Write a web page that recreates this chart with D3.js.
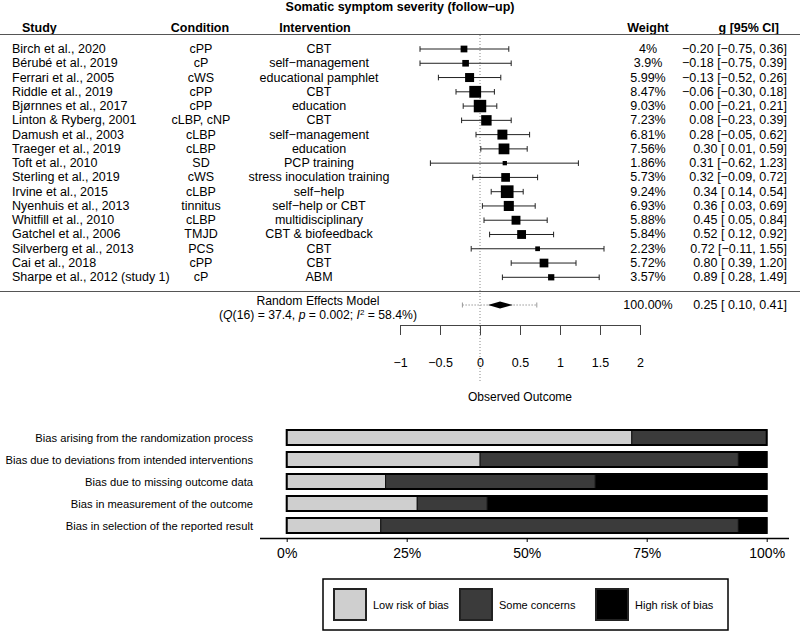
<!DOCTYPE html>
<html>
<head>
<meta charset="utf-8">
<script src="https://cdn.jsdelivr.net/npm/d3@7"></script>
<style>
  html, body { margin: 0; padding: 0; background: #fff; }
  svg { display: block; }
  text { font-family: "Liberation Sans", Arial, Helvetica, sans-serif; fill: #000; }
</style>
</head>
<body>
<svg id="chart" width="800" height="631"></svg>
<script>
// ---------------- DATA ----------------
const chartTitle = "Somatic symptom severity (follow\u2212up)";
const studies = ["Birch et al., 2020","Bérubé et al., 2019","Ferrari et al., 2005","Riddle et al., 2019","Bjørnnes et al., 2017","Linton & Ryberg, 2001","Damush et al., 2003","Traeger et al., 2019","Toft et al., 2010","Sterling et al., 2019","Irvine et al., 2015","Nyenhuis et al., 2013","Whitfill et al., 2010","Gatchel et al., 2006","Silverberg et al., 2013","Cai et al., 2018","Sharpe et al., 2012 (study 1)"];
const conditions = ["cPP","cP","cWS","cPP","cPP","cLBP, cNP","cLBP","cLBP","SD","cWS","cLBP","tinnitus","cLBP","TMJD","PCS","cPP","cP"];
const interventions = ["CBT","self\u2212management","educational pamphlet","CBT","education","CBT","self\u2212management","education","PCP training","stress inoculation training","self\u2212help","self\u2212help or CBT","multidisciplinary","CBT & biofeedback","CBT","CBT","ABM"];
const effects = [-0.20,-0.18,-0.13,-0.06,0.00,0.08,0.28,0.30,0.31,0.32,0.34,0.36,0.45,0.52,0.72,0.80,0.89];
const ciLower = [-0.75,-0.75,-0.52,-0.30,-0.21,-0.23,-0.05,0.01,-0.62,-0.09,0.14,0.03,0.05,0.12,-0.11,0.39,0.28];
const ciUpper = [0.36,0.39,0.26,0.18,0.21,0.39,0.62,0.59,1.23,0.72,0.54,0.69,0.84,0.92,1.55,1.20,1.49];
const weights = [4,3.9,5.99,8.47,9.03,7.23,6.81,7.56,1.86,5.73,9.24,6.93,5.88,5.84,2.23,5.72,3.57];
const reModel = {est: 0.25, lo: 0.10, hi: 0.41, piLo: -0.22, piHi: 0.71, weight: "100.00%"};
const reStats = {Q: "37.4", df: "16", p: "0.002", I2: "58.4%"};
const forestTicks = [-1,-0.5,0,0.5,1,1.5,2];
const forestXLabel = "Observed Outcome";
const headers = {study: "Study", condition: "Condition", intervention: "Intervention", weight: "Weight", ci: "g [95% CI]"};

const biasDomains = ["Bias arising from the randomization process","Bias due to deviations from intended interventions","Bias due to missing outcome data","Bias in measurement of the outcome","Bias in selection of the reported result"];
const lowRisk = [71.9,40.3,20.6,27.2,19.6];
const someConcerns = [28.1,53.8,43.7,14.6,74.5];
const highRisk = [0,5.9,35.7,58.2,5.9];
const biasKeys = ["low","some","high"];
const biasLabels = ["Low risk of bias","Some concerns","High risk of bias"];
const biasColors = ["#cfcfcf","#3b3b3b","#000000"];
const biasTicks = [0,25,50,75,100];

// ---------------- HELPERS ----------------
const MINUS = "\u2212";
const fmt2 = v => { const s = d3.format(".2f")(Math.abs(v)); return (v < 0 ? MINUS : " ") + s; };
const fmtNum = v => d3.format(".2f")(v).replace("-", MINUS);

const svg = d3.select("#chart");
const FS = 12.5;

// ---------------- FOREST PLOT ----------------
const x = d3.scaleLinear().domain([-1, 2]).range([400, 640]);
const y = d3.scalePoint().domain(d3.range(studies.length)).range([49, 277.3]);
const sizeScale = d3.scaleLinear().domain([d3.min(weights), d3.max(weights)]).range([4.3, 12.7]);

// title
svg.append("text").attr("x", 400).attr("y", 11).attr("text-anchor", "middle")
  .attr("font-size", FS).attr("font-weight", "bold").text(chartTitle);

// headers
const hdr = svg.append("g").attr("font-size", FS).attr("font-weight", "bold");
hdr.append("text").attr("x", 22).attr("y", 32).text(headers.study);
hdr.append("text").attr("x", 200).attr("y", 32).attr("text-anchor", "middle").text(headers.condition);
hdr.append("text").attr("x", 315).attr("y", 32).attr("text-anchor", "middle").text(headers.intervention);
hdr.append("text").attr("x", 648).attr("y", 32).attr("text-anchor", "middle").text(headers.weight);
hdr.append("text").attr("x", 779).attr("y", 32).attr("text-anchor", "end").text(headers.ci);

// horizontal rules
svg.append("line").attr("x1", 0).attr("x2", 800).attr("y1", 34.5).attr("y2", 34.5).attr("stroke", "#555").attr("stroke-width", 1.2);
svg.append("line").attr("x1", 0).attr("x2", 800).attr("y1", 291.5).attr("y2", 291.5).attr("stroke", "#555").attr("stroke-width", 1.2);

// reference line at 0
svg.append("line").attr("x1", x(0)).attr("x2", x(0)).attr("y1", 35).attr("y2", 382)
  .attr("stroke", "#888").attr("stroke-width", 1).attr("stroke-dasharray", "1,2");

// rows
const rows = svg.append("g").attr("font-size", FS);
studies.forEach((s, i) => {
  const yy = y(i);
  rows.append("text").attr("x", 12).attr("y", yy + 4).text(s);
  rows.append("text").attr("x", 201).attr("y", yy + 4).attr("text-anchor", "middle").text(conditions[i]);
  rows.append("text").attr("x", 319).attr("y", yy + 4).attr("text-anchor", "middle").text(interventions[i]);
  rows.append("text").attr("x", 648).attr("y", yy + 4).attr("text-anchor", "middle").text(weights[i] + "%");
  rows.append("text").attr("x", 787).attr("y", yy + 4).attr("text-anchor", "end").style("white-space", "pre")
    .text(fmtNum(effects[i]) + " [" + fmt2(ciLower[i]) + ", " + fmtNum(ciUpper[i]) + "]");
  // CI
  const g = svg.append("g").attr("stroke", "#222").attr("stroke-width", 1);
  g.append("line").attr("x1", x(ciLower[i])).attr("x2", x(ciUpper[i])).attr("y1", yy).attr("y2", yy);
  g.append("line").attr("x1", x(ciLower[i])).attr("x2", x(ciLower[i])).attr("y1", yy - 2.8).attr("y2", yy + 2.8);
  g.append("line").attr("x1", x(ciUpper[i])).attr("x2", x(ciUpper[i])).attr("y1", yy - 2.8).attr("y2", yy + 2.8);
  const sz = sizeScale(weights[i]);
  svg.append("rect").attr("x", x(effects[i]) - sz / 2).attr("y", yy - sz / 2)
    .attr("width", sz).attr("height", sz).attr("fill", "#000");
});

// RE model
const reY = 305;
const pi = svg.append("g").attr("stroke", "#999").attr("stroke-width", 1);
pi.append("line").attr("x1", x(reModel.piLo)).attr("x2", x(reModel.piHi)).attr("y1", reY).attr("y2", reY).attr("stroke-dasharray", "1.5,1.5");
pi.append("line").attr("x1", x(reModel.piLo)).attr("x2", x(reModel.piLo)).attr("y1", reY - 2.5).attr("y2", reY + 2.5);
pi.append("line").attr("x1", x(reModel.piHi)).attr("x2", x(reModel.piHi)).attr("y1", reY - 2.5).attr("y2", reY + 2.5);
svg.append("polygon").attr("fill", "#000")
  .attr("points", [[x(reModel.lo), reY], [x(reModel.est), reY - 3.5], [x(reModel.hi), reY], [x(reModel.est), reY + 3.5]].map(p => p.join(",")).join(" "));
svg.append("text").attr("x", 318).attr("y", 305).attr("text-anchor", "middle").attr("font-size", 12.2).text("Random Effects Model");
const st = svg.append("text").attr("x", 318).attr("y", 318.5).attr("text-anchor", "middle").attr("font-size", 12.2);
st.append("tspan").text("(");
st.append("tspan").attr("font-style", "italic").text("Q");
st.append("tspan").text("(" + reStats.df + ") = " + reStats.Q + ", ");
st.append("tspan").attr("font-style", "italic").text("p");
st.append("tspan").text(" = " + reStats.p + "; ");
st.append("tspan").attr("font-style", "italic").text("I");
st.append("tspan").attr("font-size", 8).attr("dy", -3.5).text("2");
st.append("tspan").attr("dy", 3.5).text(" = " + reStats.I2 + ")");
svg.append("text").attr("x", 648).attr("y", 309).attr("text-anchor", "middle").attr("font-size", FS).text(reModel.weight);
svg.append("text").attr("x", 787).attr("y", 309).attr("text-anchor", "end").attr("font-size", FS).style("white-space", "pre")
  .text(fmtNum(reModel.est) + " [" + fmt2(reModel.lo) + ", " + fmtNum(reModel.hi) + "]");

// forest axis
const fAxis = svg.append("g").attr("transform", "translate(0,325)")
  .call(d3.axisBottom(x).tickValues(forestTicks).tickSize(10).tickSizeOuter(0).tickPadding(23)
    .tickFormat(d => String(d).replace("-", MINUS)));
fAxis.selectAll("path, line").attr("stroke", "#444").attr("stroke-width", 1);
fAxis.selectAll("text").attr("font-size", FS).attr("font-family", "'Liberation Sans', Arial, sans-serif");
svg.append("text").attr("x", 520).attr("y", 401).attr("text-anchor", "middle").attr("font-size", 12).text(forestXLabel);

// ---------------- RISK OF BIAS BAR CHART ----------------
const bx = d3.scaleLinear().domain([0, 100]).range([286.7, 766.7]);
const by = d3.scalePoint().domain(biasDomains).range([437.5, 525.5]);
const barH = 15;
const biasData = biasDomains.map((d, i) => ({domain: d, low: lowRisk[i], some: someConcerns[i], high: highRisk[i]}));
const stacked = d3.stack().keys(biasKeys)(biasData);
const color = d3.scaleOrdinal().domain(biasKeys).range(biasColors);

stacked.forEach(layer => {
  svg.append("g").selectAll("rect").data(layer.filter(d => d[1] - d[0] > 0)).join("rect")
    .attr("x", d => bx(d[0])).attr("width", d => bx(d[1]) - bx(d[0]))
    .attr("y", d => by(d.data.domain) - barH / 2).attr("height", barH)
    .attr("fill", color(layer.key)).attr("stroke", "#111").attr("stroke-width", 1);
});
svg.append("g").selectAll("rect").data(biasData).join("rect")
  .attr("x", bx(0)).attr("width", bx(100) - bx(0))
  .attr("y", d => by(d.domain) - barH / 2).attr("height", barH)
  .attr("fill", "none").attr("stroke", "#000").attr("stroke-width", 2);

svg.append("g").attr("font-size", 11.2).selectAll("text").data(biasDomains).join("text")
  .attr("x", 253).attr("y", d => by(d) + 4).attr("text-anchor", "end").text(d => d);

const bAxis = svg.append("g").attr("transform", "translate(0,538)")
  .call(d3.axisBottom(bx).tickValues(biasTicks).tickSize(4).tickSizeOuter(0).tickPadding(6).tickFormat(d => d + "%"));
bAxis.select(".domain").attr("d", "M260,0.5H789").attr("stroke", "#000").attr("stroke-width", 1.5);
bAxis.selectAll(".tick line").attr("stroke", "#000").attr("stroke-width", 1);
bAxis.selectAll("text").attr("font-size", 14).attr("font-family", "'Liberation Sans', Arial, sans-serif");

// legend
const lg = svg.append("g");
lg.append("rect").attr("x", 323).attr("y", 579).attr("width", 405).attr("height", 51)
  .attr("fill", "#fff").attr("stroke", "#000").attr("stroke-width", 1.5);
const keyX = [333, 459, 595];
biasKeys.forEach((k, i) => {
  lg.append("rect").attr("x", keyX[i] + 1).attr("y", 589).attr("width", 32).attr("height", 31)
    .attr("fill", color(k)).attr("stroke", "#222").attr("stroke-width", 2);
  lg.append("text").attr("x", keyX[i] + 40).attr("y", 609).attr("font-size", 11).text(biasLabels[i]);
});
</script>
</body>
</html>
